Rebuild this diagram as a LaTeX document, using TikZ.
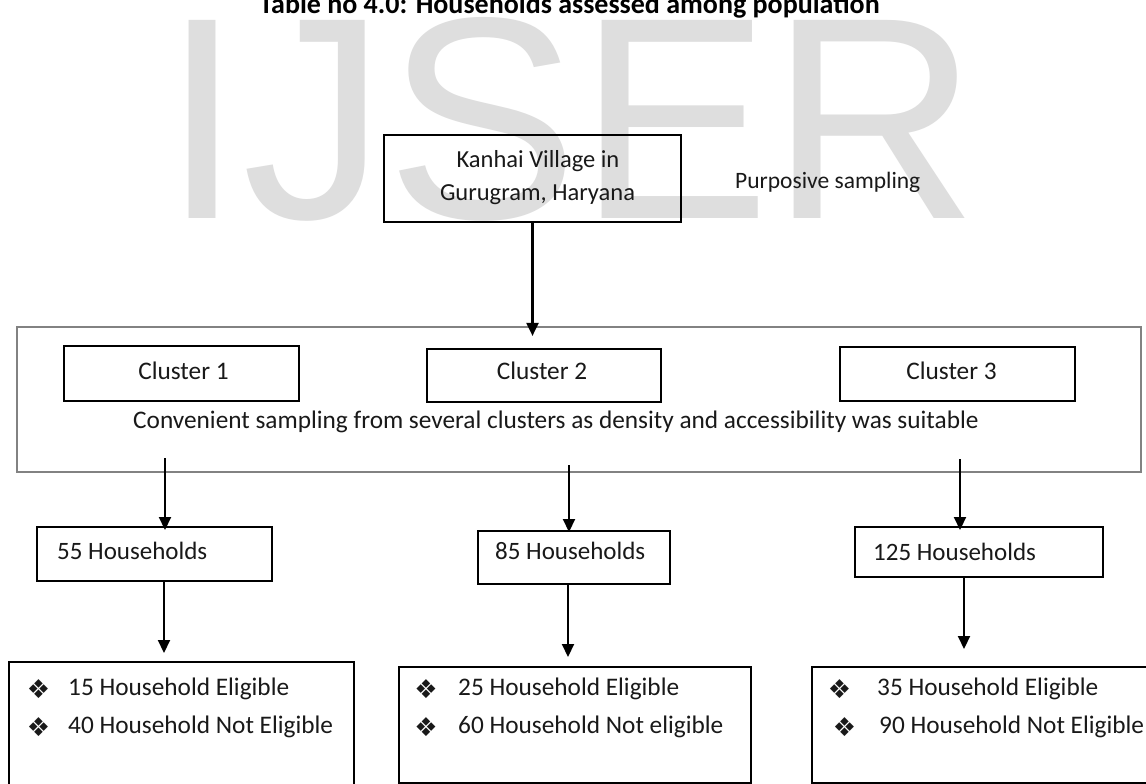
\documentclass[tikz,border=0pt]{standalone}
\usepackage{fontspec}
\setmainfont{Carlito}
\newfontfamily\wmfont{Liberation Sans}
\newfontfamily\symfont{DejaVu Sans}
\usetikzlibrary{arrows.meta}
\begin{document}
\begin{tikzpicture}[x=1pt,y=-1pt,
  bx/.style={draw=black, line width=2pt, inner sep=0pt, rectangle},
  bigbx/.style={draw={rgb,255:red,130;green,130;blue,130}, line width=2.2pt, inner sep=0pt, rectangle},
  arr/.style={line width=2.1pt, -{Triangle[width=12pt,length=13pt]}},
  tl/.style={inner sep=0pt, anchor=base west, text=black!90, font=\fontsize{25.3}{30}\selectfont},
  tc/.style={inner sep=0pt, anchor=base, text=black!90, font=\fontsize{25.3}{30}\selectfont},
  hl/.style={inner sep=0pt, anchor=base west, text=black!90, font=\fontsize{25}{30}\selectfont},
  bul/.style={inner sep=0pt, anchor=center, text=black!90, font=\symfont\fontsize{26}{30}\selectfont},
]
\useasboundingbox (0,0) rectangle (1146,784);
\clip (0,0) rectangle (1146,784);
\fill[white] (0,0) rectangle (1146,784);

% watermark
\node[anchor=base west, inner sep=0pt, text=black!13, font=\wmfont\fontsize{288}{288}\selectfont] (wm) at (162,218) {IJSER};

% title
\node[anchor=base, inner sep=0pt, text=black, font=\bfseries\fontsize{28}{34}\selectfont] (title) at (569.5,14) {Table no 4.0: Households assessed among population};

% top box
\node[bx, minimum width=297, minimum height=87] (kanhai) at (532.5,178.5) {};
\node[inner sep=0pt, anchor=base, text=black!90, font=\fontsize{24.5}{30}\selectfont] (k1) at (538,167) {Kanhai Village in};
\node[inner sep=0pt, anchor=base, text=black!90, font=\fontsize{24.5}{30}\selectfont] (k2) at (537.5,200) {Gurugram, Haryana};
\node[inner sep=0pt, anchor=base west, text=black!90, font=\fontsize{23.5}{28}\selectfont] (purp) at (735,188) {Purposive sampling};

% big box with clusters
\node[bigbx, minimum width=1124, minimum height=145] (big) at (579,399.5) {};
\node[bx, minimum width=235, minimum height=55] (c1) at (181.5,373.5) {};
\node[bx, minimum width=234, minimum height=53] (c2) at (544,375.5) {};
\node[bx, minimum width=235, minimum height=54] (c3) at (957.5,374) {};
\node[tc] (c1t) at (183.5,379) {Cluster 1};
\node[tc] (c2t) at (542,379) {Cluster 2};
\node[tc] (c3t) at (951.5,379) {Cluster 3};
\node[tl] (conv) at (133,428) {Convenient sampling from several clusters as density and accessibility was suitable};

% households boxes
\node[bx, minimum width=235, minimum height=54] (h1) at (154.5,554) {};
\node[bx, minimum width=192, minimum height=53] (h2) at (574,557.5) {};
\node[bx, minimum width=248, minimum height=50] (h3) at (979,552) {};
\node[hl] (h1t) at (57,559) {55 Households};
\node[hl] (h2t) at (495,559) {85 Households};
\node[hl] (h3t) at (873,560) {125 Households};

% eligibility boxes
\node[bx, minimum width=345, minimum height=160] (e1) at (181.5,742) {};
\node[bx, minimum width=352, minimum height=116] (e2) at (575,725) {};
\node[bx, minimum width=353, minimum height=116] (e3) at (988.5,725) {};

\node[bul] (b11) at (38.5,689) {❖};
\node[bul] (b12) at (38.5,727) {❖};
\node[tl] (e1a) at (68,695) {15 Household Eligible};
\node[tl] (e1b) at (68,733) {40 Household Not Eligible};

\node[bul] (b21) at (426,689) {❖};
\node[bul] (b22) at (426,727) {❖};
\node[tl] (e2a) at (458,695) {25 Household Eligible};
\node[tl] (e2b) at (458,733) {60 Household Not eligible};

\node[bul] (b31) at (839.5,689) {❖};
\node[bul] (b32) at (844.5,727) {❖};
\node[tl] (e3a) at (877,695) {35 Household Eligible};
\node[tl] (e3b) at (879,733) {90 Household Not Eligible};

% connectors
\draw[arr, shorten >=-10pt] (kanhai.south) -- (kanhai.south |- big.north);

\coordinate (s1) at (165,458);
\coordinate (s2) at (569,465);
\coordinate (s3) at (960,459);
\draw[arr, shorten >=-4pt] (s1) -- (s1 |- h1.north);
\draw[arr, shorten >=-2pt] (s2) -- (s2 |- h2.north);
\draw[arr, shorten >=-4pt] (s3) -- (s3 |- h3.north);

\coordinate (t1) at (164,0);
\coordinate (t2) at (568,0);
\coordinate (t3) at (964,0);
\draw[arr, shorten >=8pt] (t1 |- h1.south) -- (t1 |- e1.north);
\draw[arr, shorten >=9pt] (t2 |- h2.south) -- (t2 |- e2.north);
\draw[arr, shorten >=17pt] (t3 |- h3.south) -- (t3 |- e3.north);
\end{tikzpicture}
\end{document}
